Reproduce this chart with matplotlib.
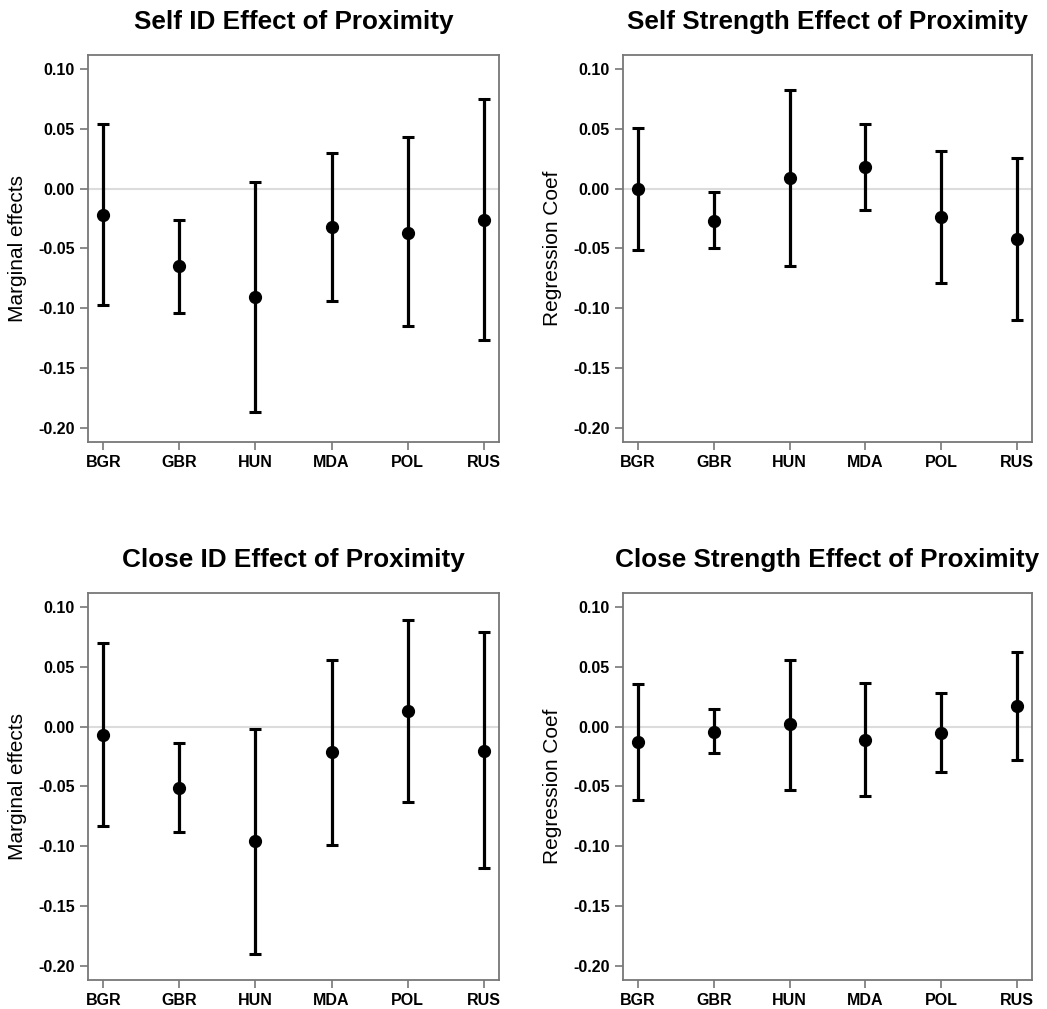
import matplotlib
matplotlib.use("Agg")
import matplotlib.pyplot as plt

plt.rcParams['font.family'] = ['Liberation Sans', 'DejaVu Sans']

countries = ['BGR', 'GBR', 'HUN', 'MDA', 'POL', 'RUS']

# Self ID (marginal effects)
self_id_est = [-0.022, -0.065, -0.091, -0.032, -0.037, -0.026]
self_id_lo = [-0.097, -0.104, -0.187, -0.094, -0.115, -0.127]
self_id_hi = [0.054, -0.026, 0.006, 0.030, 0.043, 0.075]

# Self Strength (regression coef)
self_str_est = [0.000, -0.027, 0.009, 0.018, -0.024, -0.042]
self_str_lo = [-0.051, -0.050, -0.065, -0.018, -0.079, -0.110]
self_str_hi = [0.051, -0.003, 0.083, 0.054, 0.032, 0.026]

# Close ID (marginal effects)
close_id_est = [-0.007, -0.051, -0.096, -0.021, 0.013, -0.020]
close_id_lo = [-0.083, -0.088, -0.190, -0.099, -0.063, -0.118]
close_id_hi = [0.070, -0.014, -0.002, 0.056, 0.089, 0.079]

# Close Strength (regression coef)
close_str_est = [-0.013, -0.004, 0.002, -0.011, -0.005, 0.017]
close_str_lo = [-0.061, -0.022, -0.053, -0.058, -0.038, -0.028]
close_str_hi = [0.036, 0.015, 0.056, 0.037, 0.028, 0.063]

panels = [
    ("Self ID Effect of Proximity", "Marginal effects", self_id_est, self_id_lo, self_id_hi),
    ("Self Strength Effect of Proximity", "Regression Coef", self_str_est, self_str_lo, self_str_hi),
    ("Close ID Effect of Proximity", "Marginal effects", close_id_est, close_id_lo, close_id_hi),
    ("Close Strength Effect of Proximity", "Regression Coef", close_str_est, close_str_lo, close_str_hi),
]

W, H = 1047, 1009
fig = plt.figure(figsize=(W / 100, H / 100), dpi=100)

# axes boxes in pixels: left, top, right, bottom
boxes = [(88, 55, 499, 442), (623, 55, 1032, 442),
         (88, 593, 499, 980), (623, 593, 1032, 980)]

x = list(range(1, len(countries) + 1))
for (title, ylab, est, lo, hi), (l, t, r, b) in zip(panels, boxes):
    ax = fig.add_axes([l / W, 1 - b / H, (r - l) / W, (b - t) / H])
    ax.axhline(0, color='#dcdcdc', lw=1.5, zorder=1)
    yerr = [[e - a for e, a in zip(est, lo)], [c - e for e, c in zip(est, hi)]]
    ax.errorbar(x, est, yerr=yerr, fmt='o', color='black', ms=8.5,
                elinewidth=2.3, capsize=4.2, capthick=2.2, zorder=3)
    ax.set_xlim(0.8, 6.2)
    ax.set_ylim(-0.212, 0.112)
    ax.set_yticks([-0.20, -0.15, -0.10, -0.05, 0.00, 0.05, 0.10])
    ax.set_yticklabels(['-0.20', '-0.15', '-0.10', '-0.05', '0.00', '0.05', '0.10'])
    ax.set_xticks(x)
    ax.set_xticklabels(countries)
    ax.tick_params(axis='both', direction='out', length=6, width=1.2,
                   color='#777777', labelsize=11.5)
    for lab in ax.get_xticklabels() + ax.get_yticklabels():
        lab.set_fontweight('bold')
    for sp in ax.spines.values():
        sp.set_color('#777777')
        sp.set_linewidth(1.3)
    ax.set_ylabel(ylab, fontsize=15, labelpad=8)
    ax.set_title(title, fontsize=18.8, fontweight='bold', pad=19)

fig.savefig('out.png', dpi=100)
